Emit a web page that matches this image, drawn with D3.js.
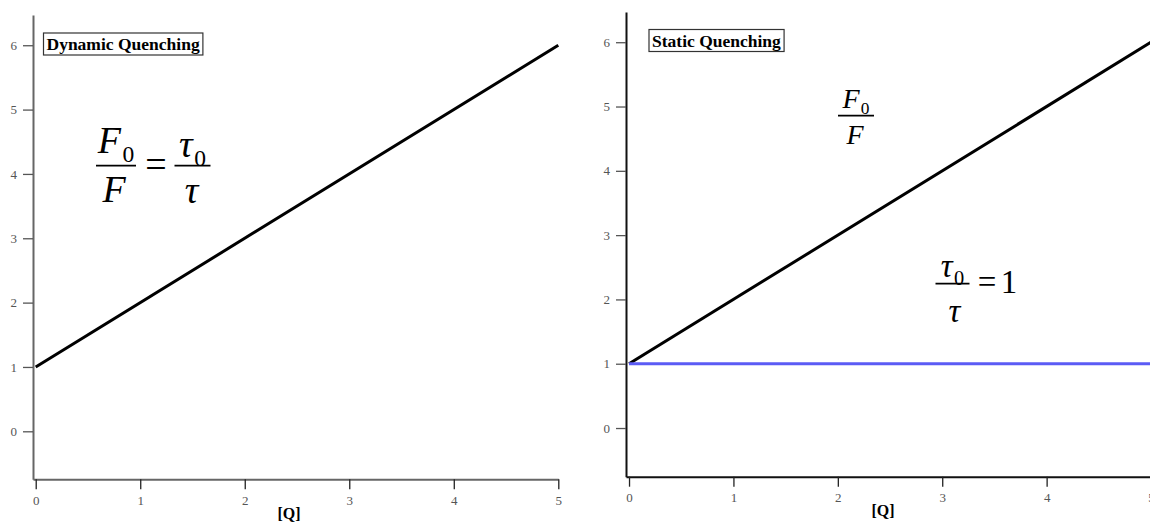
<!DOCTYPE html>
<html>
<head>
<meta charset="utf-8">
<script src="https://cdn.jsdelivr.net/npm/d3@7"></script>
<style>
  html, body { margin: 0; padding: 0; background: #fff; }
  svg { display: block; }
  .tick text { font-family: "Liberation Serif", "DejaVu Serif", serif; font-size: 13px; fill: #555; }
</style>
</head>
<body>
<svg id="chart" width="1150" height="523"></svg>
<script>
// ---- data ----
const xTicks = [0, 1, 2, 3, 4, 5];
const yTicks = [0, 1, 2, 3, 4, 5, 6];
const qValues = [0, 5];
const dynamicRatio = [1, 6];     // F0/F = tau0/tau
const staticFRatio = [1, 6];     // F0/F
const staticTauRatio = [1, 1];   // tau0/tau
const panelTitles = ["Dynamic Quenching", "Static Quenching"];
const xLabel = "[Q]";

const svg = d3.select("#chart");
const serif = '"Liberation Serif", "Times New Roman", serif';

function panel(cfg) {
  const g = svg.append("g");
  const x = d3.scaleLinear().domain(cfg.xDom).range(cfg.xRange);
  const y = d3.scaleLinear().domain(cfg.yDom).range(cfg.yRange);

  const xAxis = g.append("g")
    .attr("transform", `translate(0,${y(cfg.yDom[0])})`)
    .call(d3.axisBottom(x).tickValues(xTicks).tickSize(10).tickSizeOuter(0).tickPadding(6).tickFormat(d3.format("d")));
  xAxis.select(".domain").attr("stroke", cfg.axisColor).attr("stroke-width", 2);
  xAxis.selectAll(".tick line").attr("stroke", "#222").attr("stroke-width", 1.3);

  const yAxis = g.append("g")
    .attr("transform", `translate(${x(cfg.xDom[0])},0)`)
    .call(d3.axisLeft(y).tickValues(yTicks).tickSize(10).tickSizeOuter(0).tickPadding(6).tickFormat(d3.format("d")));
  yAxis.select(".domain").attr("stroke", cfg.axisColor).attr("stroke-width", 2);
  yAxis.selectAll(".tick line").attr("stroke", "#555").attr("stroke-width", 1.3);

  const line = d3.line().x((d, i) => x(qValues[i])).y(d => y(d));
  cfg.series.forEach(s => {
    g.append("path").datum(s.values)
      .attr("d", line)
      .attr("fill", "none")
      .attr("stroke", s.color)
      .attr("stroke-width", 3);
  });

  // title box
  const t = g.append("text")
    .attr("x", cfg.title.x).attr("y", cfg.title.y)
    .attr("font-family", serif).attr("font-weight", "bold").attr("font-size", 17.5)
    .text(cfg.title.text);
  const bb = t.node().getBBox();
  g.insert("rect", () => t.node())
    .attr("x", bb.x - 3).attr("y", bb.y - 1)
    .attr("width", bb.width + 6).attr("height", bb.height + 2)
    .attr("fill", "#fff").attr("stroke", "#333").attr("stroke-width", 1.2);

  g.append("text")
    .attr("x", cfg.xLabelPos[0]).attr("y", cfg.xLabelPos[1])
    .attr("text-anchor", "middle")
    .attr("font-family", serif).attr("font-weight", "bold").attr("font-size", 16)
    .text(xLabel);
  return g;
}

// fraction helper: symbol with subscript over symbol
function fraction(g, cx, barY, barW, size, num, den) {
  g.append("line").attr("x1", cx - barW / 2).attr("x2", cx + barW / 2)
    .attr("y1", barY).attr("y2", barY).attr("stroke", "#000").attr("stroke-width", 1.8);
  const n = g.append("text").attr("x", cx).attr("y", barY + num.dy)
    .attr("text-anchor", "middle").attr("font-family", serif).attr("font-size", size);
  n.append("tspan").attr("font-style", "italic").text(num.sym);
  n.append("tspan").attr("font-size", size * 0.62).attr("dx", size * 0.04).attr("dy", size * 0.24).text("0");
  g.append("text").attr("x", cx + (den.dx || 0)).attr("y", barY + den.dy)
    .attr("text-anchor", "middle").attr("font-family", serif).attr("font-size", size)
    .attr("font-style", "italic").text(den.sym);
}

const left = panel({
  xDom: [-0.026, 5], xRange: [33, 558.3],
  yDom: [-0.746, 6.47], yRange: [479.3, 15],
  axisColor: "#666",
  series: [{ values: dynamicRatio, color: "#000" }],
  title: { text: panelTitles[0], x: 46.5, y: 50 },
  xLabelPos: [289, 519]
});

const right = panel({
  xDom: [-0.029, 5.3], xRange: [626, 626 + 5.329 * 104.4],
  yDom: [-0.757, 6.47], yRange: [476.7, 12],
  axisColor: "#111",
  series: [{ values: staticFRatio, color: "#000" }, { values: staticTauRatio, color: "#5b5bf5" }],
  title: { text: panelTitles[1], x: 652, y: 46.5 },
  xLabelPos: [883, 516]
});

// equations
fraction(left, 116, 165.7, 40, 38, { sym: "F", dy: -13 }, { sym: "F", dx: -2, dy: 36 });
left.append("text").attr("x", 156).attr("y", 177).attr("text-anchor", "middle")
  .attr("font-family", serif).attr("font-size", 38).text("=");
fraction(left, 192.5, 165.7, 36, 38, { sym: "τ", dy: -9 }, { sym: "τ", dx: -1, dy: 37 });

fraction(right, 856, 115.7, 36, 28, { sym: "F", dy: -8 }, { sym: "F", dx: -1, dy: 28 });
fraction(right, 952.5, 283.7, 34, 33, { sym: "τ", dy: -7 }, { sym: "τ", dx: 2, dy: 38 });
right.append("text").attr("x", 987).attr("y", 293).attr("text-anchor", "middle")
  .attr("font-family", serif).attr("font-size", 33).text("=");
right.append("text").attr("x", 1009).attr("y", 293).attr("text-anchor", "middle")
  .attr("font-family", serif).attr("font-size", 33).text("1");
</script>
</body>
</html>
